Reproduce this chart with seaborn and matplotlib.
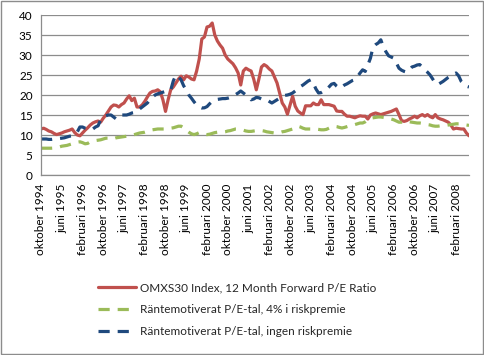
import numpy as np
import pandas as pd
import matplotlib
matplotlib.use("Agg")
import matplotlib.pyplot as plt
import seaborn as sns

# Månadsdata, oktober 1994 - juli 2008
manader = ["januari", "februari", "mars", "april", "maj", "juni", "juli",
           "augusti", "september", "oktober", "november", "december"]

omxs30 = [11.5, 11.7, 11.4, 11.0, 10.8, 10.4, 10.1, 10.3, 10.5, 10.8, 11.0, 11.2,
          11.5, 10.6, 10.0, 9.8, 10.5, 11.2, 11.8, 12.5, 13.0, 13.3, 13.5, 13.2,
          14.2, 15.0, 16.0, 17.0, 17.5, 17.4, 17.0, 17.6, 18.0, 19.0, 19.8, 18.6,
          19.2, 17.0, 17.0, 17.5, 18.4, 19.5, 20.5, 20.9, 21.0, 21.3, 20.8, 18.8,
          15.9, 18.8, 21.3, 22.0, 23.0, 24.0, 24.7, 23.8, 24.8, 24.5, 24.0, 23.8,
          26.0, 29.0, 34.0, 34.5, 37.0, 37.2, 38.0, 35.0, 33.5, 32.5, 31.7, 30.0,
          29.0, 28.4, 27.8, 26.8, 25.5, 22.5, 26.0, 26.7, 26.3, 26.0, 24.0, 21.3,
          24.0, 27.0, 27.6, 27.2, 26.5, 26.0, 24.5, 23.0, 20.5, 18.0, 17.0, 15.2,
          17.5, 19.7, 17.2, 16.0, 15.5, 15.1, 17.3, 17.3, 17.3, 18.0, 17.6, 17.6,
          18.8, 17.6, 17.6, 17.6, 17.4, 17.2, 16.0, 15.9, 15.9, 15.2, 14.7, 14.7,
          14.5, 14.3, 14.6, 14.8, 14.7, 14.7, 14.0, 15.0, 15.3, 15.5, 15.3, 15.1,
          15.3, 15.5, 15.7, 15.9, 16.2, 16.5, 15.1, 13.6, 13.4, 13.6, 14.0, 14.3,
          14.7, 14.3, 14.8, 15.1, 14.7, 15.1, 14.6, 14.3, 15.1, 14.3, 14.0, 13.8,
          13.5, 13.2, 12.5, 11.5, 11.7, 11.6, 11.5, 11.5, 10.5, 9.8]

risk4 = [6.7, 6.7, 6.7, 6.7, 6.7, 6.75, 6.8, 7.0, 7.2, 7.3, 7.4, 7.6,
         7.8, 8.0, 8.2, 8.3, 8.1, 7.8, 7.9, 8.3, 8.5, 8.6, 8.7, 8.8,
         9.0, 9.2, 9.2, 9.0, 9.1, 9.3, 9.4, 9.5, 9.6, 9.7, 9.7, 9.9,
         10.1, 10.3, 10.5, 10.6, 10.7, 10.9, 11.1, 11.3, 11.4, 11.5, 11.5, 11.5,
         11.5, 11.6, 11.7, 11.8, 12.0, 12.2, 12.2, 11.8, 11.2, 10.7, 10.3, 10.1,
         10.3, 10.6, 10.5, 10.2, 10.1, 10.2, 10.4, 10.6, 10.7, 10.7, 10.7, 10.8,
         11.0, 11.1, 11.3, 11.5, 11.5, 11.3, 11.2, 11.0, 10.9, 10.9, 11.0, 11.1,
         11.1, 11.1, 11.0, 10.8, 10.7, 10.6, 10.5, 10.5, 10.6, 10.8, 10.9, 11.1,
         11.3, 11.5, 11.9, 12.2, 12.0, 11.7, 11.5, 11.5, 11.5, 11.5, 11.5, 11.4,
         11.3, 11.3, 11.4, 11.7, 12.0, 12.2, 12.1, 11.9, 11.75, 11.9, 12.1, 12.3,
         12.5, 12.6, 12.8, 13.0, 13.0, 13.3, 13.8, 14.2, 14.3, 14.4, 14.5, 14.5,
         14.4, 14.3, 14.3, 14.0, 13.8, 13.5, 13.2, 13.2, 13.4, 13.4, 13.3, 13.2,
         13.1, 13.0, 13.0, 12.9, 12.7, 12.6, 12.5, 12.3, 12.2, 12.2, 12.3, 12.3,
         12.4, 12.5, 12.6, 12.7, 12.8, 12.8, 12.7, 12.6, 12.5, 12.4]

ingen = [9.0, 9.0, 9.0, 8.9, 8.9, 9.0, 9.0, 9.1, 9.2, 9.3, 9.5, 9.7,
         9.8, 10.2, 10.8, 12.0, 12.0, 11.7, 11.5, 11.3, 11.5, 12.0, 12.3, 13.8,
         14.5, 14.8, 15.0, 15.0, 14.5, 14.0, 14.5, 15.0, 15.0, 15.0, 15.2, 15.5,
         15.6, 16.0, 16.5, 17.0, 17.5, 18.0, 18.8, 19.5, 20.0, 20.3, 20.5, 20.7,
         20.9, 20.9, 21.2, 23.5, 25.0, 24.5, 23.8, 22.3, 21.3, 20.0, 19.2, 18.3,
         17.5, 17.0, 16.75, 16.8, 17.1, 17.8, 18.4, 18.7, 18.9, 19.0, 19.1, 19.1,
         19.2, 19.4, 19.7, 20.1, 20.5, 21.0, 20.5, 20.0, 19.5, 18.8, 19.0, 19.4,
         19.3, 19.0, 18.8, 18.8, 18.4, 18.0, 18.4, 18.8, 19.2, 19.7, 19.9, 20.0,
         20.2, 20.5, 21.0, 21.7, 22.1, 22.5, 23.0, 23.5, 23.8, 22.9, 21.5, 20.5,
         20.6, 21.0, 21.3, 22.0, 22.7, 22.9, 22.2, 21.7, 22.0, 22.5, 22.8, 23.2,
         23.6, 23.8, 24.6, 25.5, 26.3, 25.9, 27.5, 29.2, 32.0, 32.6, 33.0, 33.8,
         32.0, 30.8, 29.8, 29.5, 29.2, 28.0, 26.7, 26.2, 25.9, 25.7, 26.3, 27.0,
         27.2, 27.5, 27.6, 27.0, 26.3, 25.7, 25.0, 24.0, 23.0, 22.6, 23.0, 23.4,
         23.9, 24.4, 24.8, 25.2, 25.5, 24.8, 23.4, 22.8, 22.2, 22.0]

n = len(omxs30)
idx = np.arange(n)
etiketter = []
for i in idx:
    m = (9 + i) % 12
    ar = 1994 + (9 + i) // 12
    etiketter.append(f"{manader[m]} {ar}")

df = pd.DataFrame({"t": idx, "omx": omxs30, "r4": risk4, "ingen": ingen})

sns.set_style("white")
plt.rcParams["font.family"] = ["Lato", "DejaVu Sans"]

fig = plt.figure(figsize=(4.84, 3.55), dpi=100)
ax = fig.add_axes([41 / 484, 180 / 355, 428 / 484, 160 / 355])

sns.lineplot(data=df, x="t", y="omx", ax=ax, color="#C0504D", linewidth=2.3,
             label="OMXS30 Index, 12 Month Forward P/E Ratio")
sns.lineplot(data=df, x="t", y="r4", ax=ax, color="#9BBB59", linewidth=2.3,
             dashes=(3.5, 2.5), label="Räntemotiverat P/E-tal, 4% i riskpremie")
sns.lineplot(data=df, x="t", y="ingen", ax=ax, color="#1F497D", linewidth=2.3,
             dashes=(3.5, 2.5), label="Räntemotiverat P/E-tal, ingen riskpremie")

ax.set_xlim(0, n - 1)
ax.set_ylim(0, 40)
ax.set_yticks(range(0, 41, 5))
ax.set_xticks(idx[::8])
ax.set_xticklabels([etiketter[i] for i in idx[::8]], rotation=90)
ax.set_xlabel("")
ax.set_ylabel("")
ax.yaxis.grid(True, color="#8C8C8C", linewidth=0.9)
ax.set_axisbelow(True)
for s in ["top", "right"]:
    ax.spines[s].set_visible(False)
for s in ["left", "bottom"]:
    ax.spines[s].set_color("#8C8C8C")
    ax.spines[s].set_linewidth(0.9)
ax.tick_params(axis="both", which="both", direction="out", length=4, width=0.9,
               color="#8C8C8C", labelsize=8.5, labelcolor="black", pad=2)

ax.get_legend().remove()
handles, labels = ax.get_legend_handles_labels()
fig.legend(handles, labels, loc="center", bbox_to_anchor=(0.49, 0.128), frameon=False,
           fontsize=8.5, handlelength=3.2, labelspacing=0.9, handletextpad=0.4)

# ram runt hela diagrammet
fig.patches.append(plt.Rectangle((0.002, 0.003), 0.995, 0.994, transform=fig.transFigure,
                                 fill=False, edgecolor="#8C8C8C", linewidth=1))

fig.savefig("out.png", dpi=100)
